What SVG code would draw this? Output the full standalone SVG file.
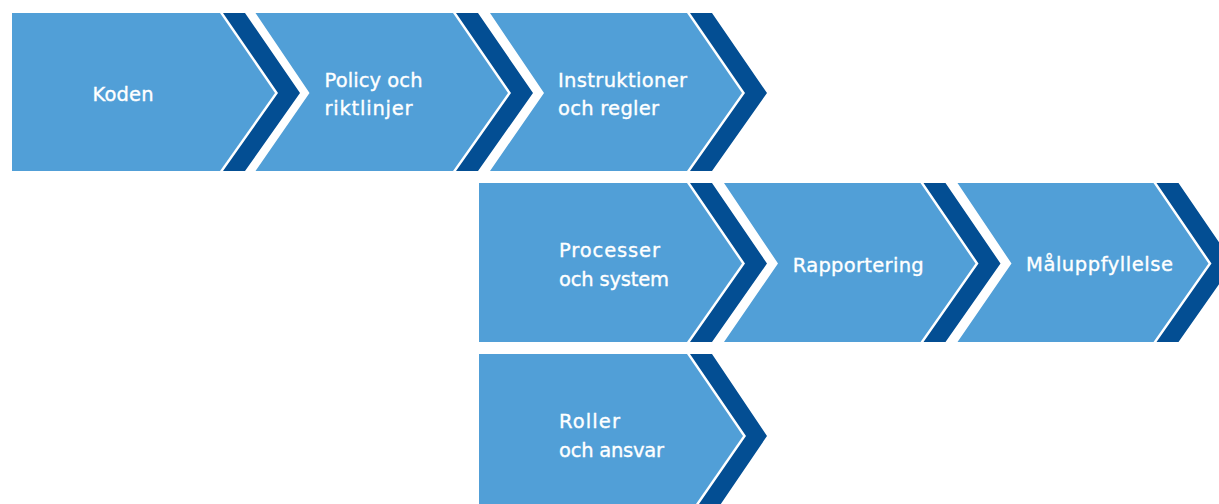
<svg xmlns="http://www.w3.org/2000/svg" width="1219" height="504" viewBox="0 0 1219 504">
<style>
.light{fill:#519fd7;}
.dark{fill:#034e93;}
.lbl{fill:#ffffff;stroke:#ffffff;stroke-width:0.35px;font-family:"DejaVu Sans","Liberation Sans",sans-serif;font-size:19.5px;}
</style>
<rect x="0" y="0" width="1219" height="504" fill="#ffffff"/>
<g id="connectors"></g>
<g id="node-koden">
<path class="light" d="M12,13 H220 L275,93 L220,171 H12 Z"/>
<path class="dark" d="M223,13 H245 L300,93 L245,171 H223 L278,93 Z"/>
<text class="lbl" x="92.5" y="100.5" textLength="61" lengthAdjust="spacing">Koden</text>
</g>
<g id="node-policy">
<path class="light" d="M255.5,13 H453 L508,93 L453,171 H255.5 L309.5,93 Z"/>
<path class="dark" d="M456,13 H478 L533,93 L478,171 H456 L511,93 Z"/>
<text class="lbl" x="324.5" y="86.5" textLength="98" lengthAdjust="spacing">Policy och</text>
<text class="lbl" x="324.5" y="115" textLength="88" lengthAdjust="spacing">riktlinjer</text>
</g>
<g id="node-instruktioner">
<path class="light" d="M490,13 H687 L742,93 L687,171 H490 L544,93 Z"/>
<path class="dark" d="M690,13 H712 L767,93 L712,171 H690 L745,93 Z"/>
<text class="lbl" x="558" y="86.5" textLength="129" lengthAdjust="spacing">Instruktioner</text>
<text class="lbl" x="558" y="115" textLength="101" lengthAdjust="spacing">och regler</text>
</g>
<g id="node-processer">
<path class="light" d="M479,183 H687 L742,263.5 L687,342 H479 Z"/>
<path class="dark" d="M690,183 H712 L767,263.5 L712,342 H690 L745,263.5 Z"/>
<text class="lbl" x="559" y="257.3" textLength="101" lengthAdjust="spacing">Processer</text>
<text class="lbl" x="559" y="285.7" textLength="110" lengthAdjust="spacing">och system</text>
</g>
<g id="node-rapportering">
<path class="light" d="M724,183 H920.5 L975.5,263.5 L920.5,342 H724 L778,263.5 Z"/>
<path class="dark" d="M923.5,183 H945.5 L1000.5,263.5 L945.5,342 H923.5 L978.5,263.5 Z"/>
<text class="lbl" x="792.7" y="271.5" textLength="131" lengthAdjust="spacing">Rapportering</text>
</g>
<g id="node-maluppfyllelse">
<path class="light" d="M957.5,183 H1153.5 L1208.5,263.5 L1153.5,342 H957.5 L1011.5,263.5 Z"/>
<path class="dark" d="M1156.5,183 H1178.5 L1233.5,263.5 L1178.5,342 H1156.5 L1211.5,263.5 Z"/>
<text class="lbl" x="1026" y="270.7" textLength="147" lengthAdjust="spacing">Måluppfyllelse</text>
</g>
<g id="node-roller">
<path class="light" d="M479,354 H687 L743,436 L687,517 H479 Z"/>
<path class="dark" d="M690,354 H712 L767,436 L712,517 H690 L746,436 Z"/>
<text class="lbl" x="559" y="427.7" textLength="61" lengthAdjust="spacing">Roller</text>
<text class="lbl" x="559" y="456.7" textLength="105" lengthAdjust="spacing">och ansvar</text>
</g>
</svg>
